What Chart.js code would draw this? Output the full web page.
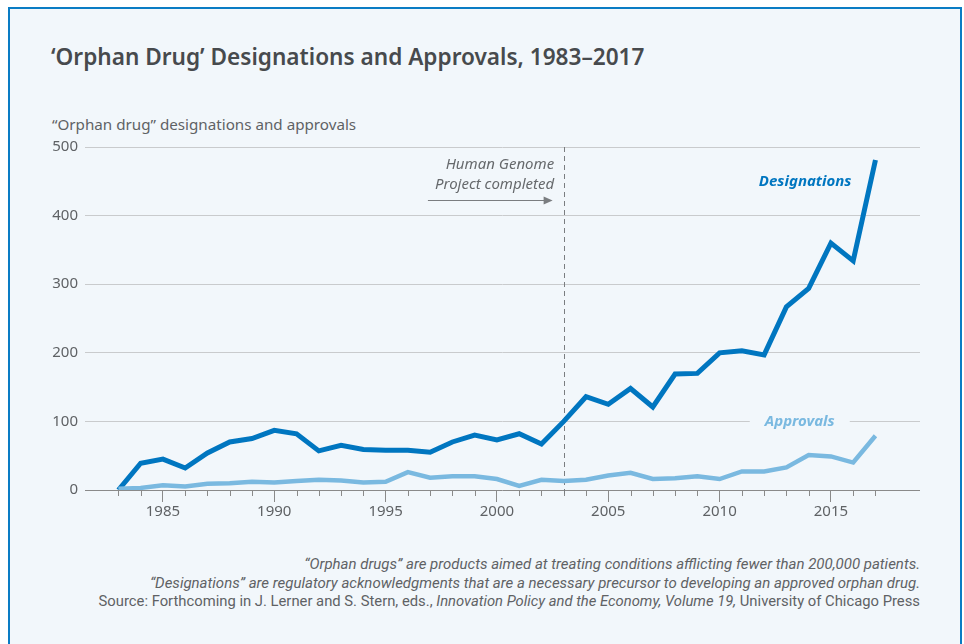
<!DOCTYPE html>
<html>
<head>
<meta charset="utf-8">
<script src="https://cdn.jsdelivr.net/npm/chart.js@4.4.0/dist/chart.umd.min.js"></script>
<style>
  body { margin: 0; width: 964px; height: 644px; overflow: hidden; background: #fff; font-family: "Noto Sans", sans-serif; }
  #frame { position: absolute; left: 8px; top: 7px; width: 950px; height: 680px; border: 2px solid #0a7cc4; background: #f2f7fb; }
  .txt { position: absolute; white-space: nowrap; }
  #title { left: 51px; top: 41px; font-size: 22.6px; font-weight: 600; color: #474a4d; }
  #ylabel { left: 52px; top: 114px; font-size: 15.2px; color: #5f6265; }
  #notes { right: 44px; top: 555px; text-align: right; font-size: 15px; line-height: 18.6px; color: #5f6265; font-family: "Liberation Sans Narrow", "Roboto", sans-serif; }
  #notes i { font-style: italic; }
  #notes .src { font-size: 14.8px; }
  canvas { position: absolute; left: 0; top: 0; }
</style>
</head>
<body>
<div id="frame"></div>
<div class="txt" id="title">‘Orphan Drug’ Designations and Approvals, 1983–2017</div>
<div class="txt" id="ylabel">“Orphan drug” designations and approvals</div>
<div class="txt" id="notes">
  <i>“Orphan drugs” are products aimed at treating conditions afflicting fewer than 200,000 patients.</i><br>
  <i>“Designations” are regulatory acknowledgments that are a necessary precursor to developing an approved orphan drug.</i><br>
  <span class="src">Source: Forthcoming in J. Lerner and S. Stern, eds., <i>Innovation Policy and the Economy, Volume 19,</i> University of Chicago Press</span>
</div>
<canvas id="chart" width="964" height="644"></canvas>
<script>
const years = [1983, 1984, 1985, 1986, 1987, 1988, 1989, 1990, 1991, 1992, 1993, 1994,
  1995, 1996, 1997, 1998, 1999, 2000, 2001, 2002, 2003, 2004, 2005, 2006, 2007, 2008,
  2009, 2010, 2011, 2012, 2013, 2014, 2015, 2016, 2017];
const designations = [0, 39, 45, 32, 54, 70, 75, 87, 82, 57, 65, 59,
  58, 58, 55, 70, 80, 73, 82, 67, 100, 136, 125, 148, 121, 169,
  170, 200, 203, 197, 267, 294, 360, 334, 481];
const approvals = [2, 3, 7, 5, 9, 10, 12, 11, 13, 15, 14, 11,
  12, 26, 18, 20, 20, 16, 6, 15, 13, 15, 21, 25, 16, 17,
  20, 16, 27, 27, 33, 51, 49, 40, 79];
const yTicks = [0, 100, 200, 300, 400, 500];
const xLabels = [1985, 1990, 1995, 2000, 2005, 2010, 2015];

const darkBlue = "#0076c0";
const lightBlue = "#7ab9e0";
const genomeYear = 2003;

const toPoints = (vals) => years.map((y, i) => ({ x: y, y: vals[i] }));

// dashed line, notes, series labels and small year ticks
const notesPlugin = {
  id: "notes",
  beforeDatasetsDraw(chart) {
    const ctx = chart.ctx;
    const xs = chart.scales.x;
    const ys = chart.scales.y;
    const area = chart.chartArea;
    ctx.save();
    // minor ticks every year
    ctx.strokeStyle = "#8a8a8a";
    ctx.lineWidth = 1;
    years.forEach((yr) => {
      if (yr % 5 === 0) return;
      const px = Math.round(xs.getPixelForValue(yr)) + 0.5;
      ctx.beginPath();
      ctx.moveTo(px, area.bottom);
      ctx.lineTo(px, area.bottom + 6);
      ctx.stroke();
    });
    // genome project line
    const gx = Math.round(xs.getPixelForValue(genomeYear)) + 0.5;
    ctx.strokeStyle = "#7a7d80";
    ctx.setLineDash([5, 4]);
    ctx.beginPath();
    ctx.moveTo(gx, area.top);
    ctx.lineTo(gx, area.bottom + 6);
    ctx.stroke();
    ctx.setLineDash([]);
    ctx.fillStyle = "#66696c";
    ctx.font = "italic 15px 'Noto Sans'";
    ctx.textAlign = "right";
    ctx.textBaseline = "middle";
    ctx.fillText("Human Genome", xs.getPixelForValue(2002.57), ys.getPixelForValue(474));
    ctx.fillText("Project completed", xs.getPixelForValue(2002.57), ys.getPixelForValue(445));
    // arrow
    const ay = Math.round(ys.getPixelForValue(423)) + 0.5;
    const ax1 = xs.getPixelForValue(1996.9);
    const ax2 = xs.getPixelForValue(2002.5);
    ctx.strokeStyle = "#7a7d80";
    ctx.beginPath();
    ctx.moveTo(ax1, ay);
    ctx.lineTo(ax2 - 4, ay);
    ctx.stroke();
    ctx.fillStyle = "#7a7d80";
    ctx.beginPath();
    ctx.moveTo(ax2, ay);
    ctx.lineTo(ax2 - 9, ay - 4);
    ctx.lineTo(ax2 - 9, ay + 4);
    ctx.closePath();
    ctx.fill();
    // series labels
    ctx.font = "italic bold 15px 'Noto Sans'";
    ctx.fillStyle = darkBlue;
    ctx.fillText("Designations", xs.getPixelForValue(2015.92), ys.getPixelForValue(450));
    const apx = xs.getPixelForValue(2013.6);
    const apy = ys.getPixelForValue(100);
    ctx.fillStyle = "#f2f7fb";
    ctx.fillRect(apx - 50, apy - 8, 100, 16);
    ctx.fillStyle = lightBlue;
    ctx.textAlign = "center";
    ctx.fillText("Approvals", apx, apy);
    ctx.restore();
  }
};

new Chart(document.getElementById("chart"), {
  type: "line",
  data: {
    datasets: [
      {
        label: "Approvals",
        data: toPoints(approvals),
        borderColor: lightBlue,
        borderWidth: 4.5,
        pointRadius: 0,
        tension: 0
      },
      {
        label: "Designations",
        data: toPoints(designations),
        borderColor: darkBlue,
        borderWidth: 5,
        pointRadius: 0,
        tension: 0
      }
    ]
  },
  options: {
    responsive: false,
    animation: false,
    layout: { padding: { left: 40, right: 44, top: 147, bottom: 114 } },
    plugins: { legend: { display: false }, tooltip: { enabled: false } },
    scales: {
      x: {
        type: "linear",
        min: 1981.5,
        max: 2019,
        afterBuildTicks: (s) => { s.ticks = xLabels.map((v) => ({ value: v })); },
        afterFit: (s) => { s.height = 40; },
        border: { display: false },
        grid: { drawOnChartArea: false, tickLength: 12, tickColor: "#8a8a8a" },
        ticks: { padding: 1, color: "#5f6265", font: { family: "Noto Sans", size: 15 }, maxRotation: 0,
          callback: (v) => String(v) }
      },
      y: {
        min: 0,
        max: 500,
        afterBuildTicks: (s) => { s.ticks = yTicks.map((v) => ({ value: v })); },
        afterFit: (s) => { s.width = 45; },
        border: { display: false },
        grid: {
          drawTicks: false,
          color: (c) => (c.tick && c.tick.value === 0 ? "#8a8a8a" : "#c9cbcd")
        },
        ticks: { padding: 7, color: "#5f6265", font: { family: "Noto Sans", size: 15 } }
      }
    }
  },
  plugins: [notesPlugin]
});
</script>
</body>
</html>
